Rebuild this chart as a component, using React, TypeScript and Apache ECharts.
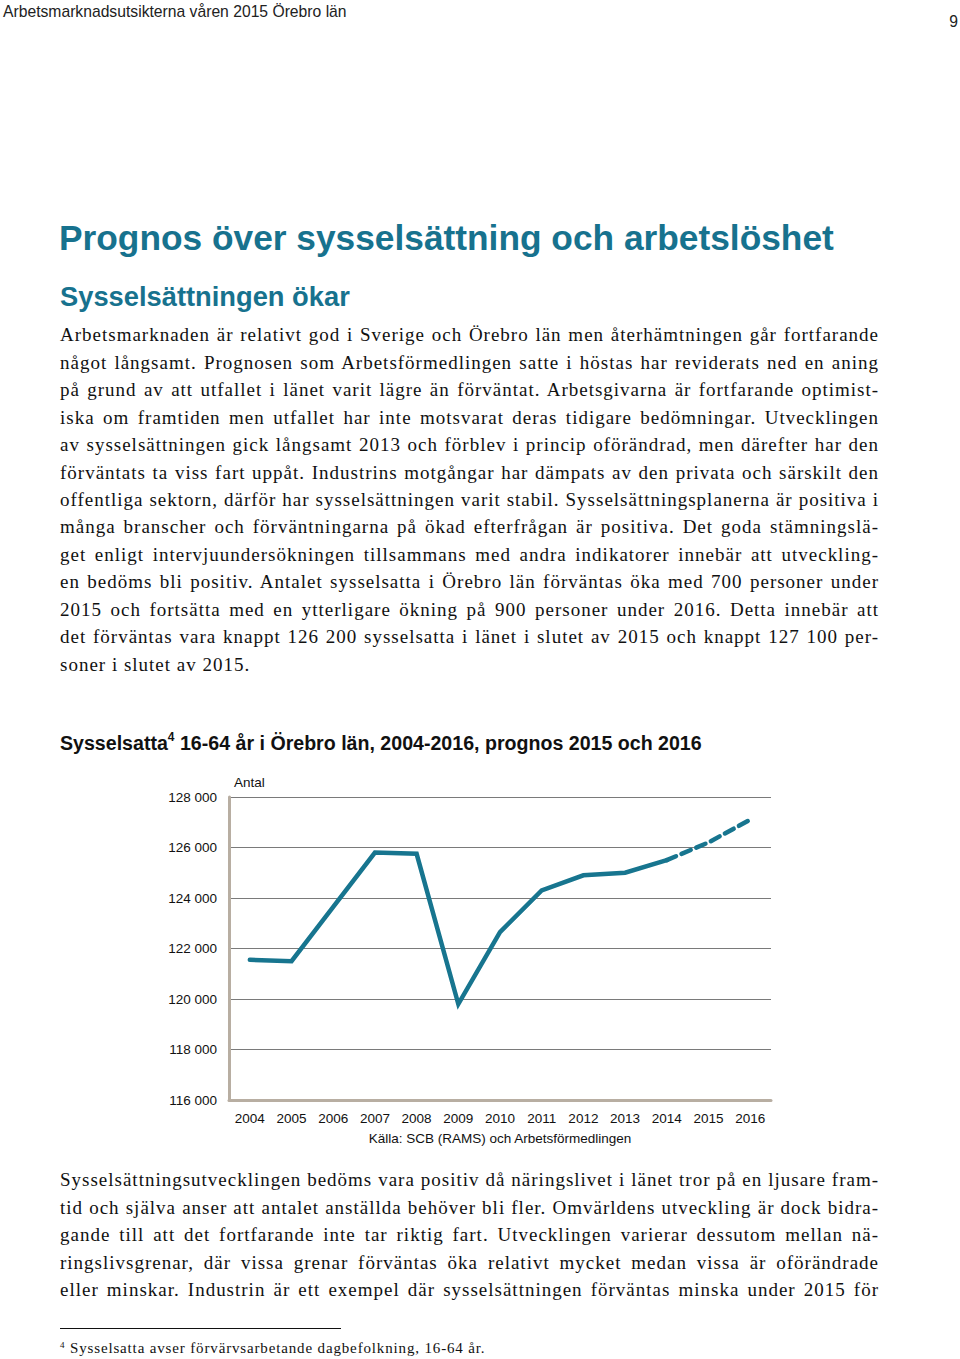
import React, { useEffect, useMemo, useRef } from "react";
import * as echarts from "echarts";

const years = ["2004", "2005", "2006", "2007", "2008", "2009", "2010", "2011", "2012", "2013", "2014", "2015", "2016"];
const actual = [121550, 121500, 123650, 125800, 125750, 119800, 122650, 124300, 124900, 125000, 125500, null, null];
const forecast = [null, null, null, null, null, null, null, null, null, null, 125500, 126200, 127100];
const yMin = 116000;
const yMax = 128000;
const yStep = 2000;

const para1 = [
  "Arbetsmarknaden är relativt god i Sverige och Örebro län men återhämtningen går fortfarande",
  "något långsamt. Prognosen som Arbetsförmedlingen satte i höstas har reviderats ned en aning",
  "på grund av att utfallet i länet varit lägre än förväntat. Arbetsgivarna är fortfarande optimist-",
  "iska om framtiden men utfallet har inte motsvarat deras tidigare bedömningar. Utvecklingen",
  "av sysselsättningen gick långsamt 2013 och förblev i princip oförändrad, men därefter har den",
  "förväntats ta viss fart uppåt. Industrins motgångar har dämpats av den privata och särskilt den",
  "offentliga sektorn, därför har sysselsättningen varit stabil. Sysselsättningsplanerna är positiva i",
  "många branscher och förväntningarna på ökad efterfrågan är positiva. Det goda stämningslä-",
  "get enligt intervjuundersökningen tillsammans med andra indikatorer innebär att utveckling-",
  "en bedöms bli positiv. Antalet sysselsatta i Örebro län förväntas öka med 700 personer under",
  "2015 och fortsätta med en ytterligare ökning på 900 personer under 2016. Detta innebär att",
  "det förväntas vara knappt 126 200 sysselsatta i länet i slutet av 2015 och knappt 127 100 per-",
  "soner i slutet av 2015.",
];

const para2 = [
  "Sysselsättningsutvecklingen bedöms vara positiv då näringslivet i länet tror på en ljusare fram-",
  "tid och själva anser att antalet anställda behöver bli fler. Omvärldens utveckling är dock bidra-",
  "gande till att det fortfarande inte tar riktig fart. Utvecklingen varierar dessutom mellan nä-",
  "ringslivsgrenar, där vissa grenar förväntas öka relativt mycket medan vissa är oförändrade",
  "eller minskar. Industrin är ett exempel där sysselsättningen förväntas minska under 2015 för",
];

const TEAL = "#17728e";
const LINE = "#17758f";
const AXIS = "#b8aea2";
const SANS = "'Liberation Sans', Arial, Helvetica, sans-serif";
const SERIF = "'Liberation Serif', 'Times New Roman', serif";
const BODY_SIZE = 19;
const BODY_W = 819;

function fmt(v: number) {
  const s = String(Math.round(v));
  return s.replace(/\B(?=(\d{3})+(?!\d))/g, " ");
}

function Chart() {
  const ref = useRef<HTMLDivElement>(null);
  useEffect(() => {
    if (!ref.current) return;
    const chart = echarts.init(ref.current, null, { renderer: "svg" });
    chart.setOption({
      animation: false,
      grid: { left: 79, right: 19, top: 32, bottom: 55 },
      xAxis: {
        type: "category",
        data: years,
        boundaryGap: true,
        axisLine: { show: true, lineStyle: { color: AXIS, width: 3 } },
        axisTick: { show: false },
        axisLabel: { color: "#111", fontFamily: SANS, fontSize: 13.5, margin: 11 },
      },
      yAxis: {
        type: "value",
        min: yMin,
        max: yMax,
        interval: yStep,
        axisLine: { show: true, lineStyle: { color: AXIS, width: 3 } },
        axisTick: { show: false },
        axisLabel: {
          color: "#111",
          fontFamily: SANS,
          fontSize: 13.5,
          margin: 12,
          formatter: (v: number) => fmt(v),
        },
        splitLine: { show: true, lineStyle: { color: "#7a7a7a", width: 1 } },
      },
      graphic: [
        {
          type: "text",
          left: 84,
          top: 10,
          style: { text: "Antal", fill: "#111", font: `13.5px ${SANS}` },
        },
        {
          type: "text",
          x: 350,
          y: 373,
          style: {
            text: "Källa: SCB (RAMS) och Arbetsförmedlingen",
            fill: "#111",
            font: `13.5px ${SANS}`,
            align: "center",
            verticalAlign: "middle",
          },
        },
      ],
      series: [
        {
          type: "line",
          data: actual,
          symbol: "none",
          lineStyle: { color: LINE, width: 4.5, cap: "round", join: "miter" },
          connectNulls: false,
        },
        {
          type: "line",
          data: forecast,
          symbol: "none",
          lineStyle: { color: LINE, width: 4.5, type: [10, 6], cap: "round" },
          connectNulls: false,
        },
      ],
    });
    return () => chart.dispose();
  }, []);
  return <div ref={ref} style={{ position: "absolute", left: 150, top: 765, width: 640, height: 390 }} />;
}

function useLetterSpacing(allLines: string[][]) {
  return useMemo(() => {
    try {
      const c = document.createElement("canvas");
      const ctx = c.getContext("2d");
      if (!ctx) return 0.7;
      ctx.font = `${BODY_SIZE}px ${SERIF}`;
      let best = 1.2;
      for (const lines of allLines) {
        lines.forEach((l, i) => {
          if (i === lines.length - 1 && lines === para1) return;
          const w = ctx.measureText(l).width;
          const ls = (BODY_W - 2 - w) / l.length;
          if (ls < best) best = ls;
        });
      }
      return Math.max(0, best);
    } catch (e) {
      return 0.7;
    }
  }, []);
}

function Lines({ lines, top, lastJustify, ls }: { lines: string[]; top: number; lastJustify: boolean; ls: number }) {
  const lh = 27.45;
  return (
    <>
      {lines.map((l, i) => {
        const justify = i < lines.length - 1 || lastJustify;
        return (
          <div
            key={i}
            style={{
              position: "absolute",
              left: 60,
              width: BODY_W,
              top: top + i * lh - lh / 2,
              height: lh,
              lineHeight: `${lh}px`,
              fontFamily: SERIF,
              fontSize: BODY_SIZE,
              color: "#111",
              whiteSpace: "nowrap",
              textAlign: justify ? "justify" : "left",
              textAlignLast: justify ? "justify" : "left",
              letterSpacing: ls,
            }}
          >
            {l}
          </div>
        );
      })}
    </>
  );
}

export default function App() {
  const ls = useLetterSpacing([para1, para2]);
  return (
    <div style={{ position: "relative", width: 960, height: 1359, background: "#fff", overflow: "hidden" }}>
      <style>{`body{margin:0;}`}</style>
      <div style={{ position: "absolute", left: 3, top: 2, fontFamily: SANS, fontSize: 15.7, color: "#222", lineHeight: "20px" }}>
        Arbetsmarknadsutsikterna våren 2015 Örebro län
      </div>
      <div style={{ position: "absolute", right: 2, top: 12, fontFamily: SANS, fontSize: 15.7, color: "#222", lineHeight: "20px" }}>
        9
      </div>
      <div style={{ position: "absolute", left: 59, top: 216, fontFamily: SANS, fontSize: 35.3, fontWeight: "bold", color: TEAL, lineHeight: "44px", whiteSpace: "nowrap" }}>
        Prognos över sysselsättning och arbetslöshet
      </div>
      <div style={{ position: "absolute", left: 60, top: 280, fontFamily: SANS, fontSize: 27.3, fontWeight: "bold", color: TEAL, lineHeight: "34px", whiteSpace: "nowrap" }}>
        Sysselsättningen ökar
      </div>
      <Lines lines={para1} top={335} lastJustify={false} ls={ls} />
      <div style={{ position: "absolute", left: 60, top: 728, fontFamily: SANS, fontSize: 19.6, fontWeight: "bold", color: "#111", lineHeight: "30px", whiteSpace: "nowrap" }}>
        Sysselsatta<sup style={{ fontSize: 12, verticalAlign: "top", lineHeight: "18px" }}>4</sup> 16-64 år i Örebro län, 2004-2016, prognos 2015 och 2016
      </div>
      <Chart />
      <Lines lines={para2} top={1180} lastJustify={true} ls={ls} />
      <div style={{ position: "absolute", left: 60, top: 1328, width: 281, height: 1, background: "#111" }} />
      <div style={{ position: "absolute", left: 60, top: 1338, fontFamily: SERIF, fontSize: 15, color: "#111", lineHeight: "20px", whiteSpace: "nowrap", letterSpacing: 0.85 }}>
        <span style={{ fontSize: 9, verticalAlign: "top", lineHeight: "14px" }}>4</span> Sysselsatta avser förvärvsarbetande dagbefolkning, 16-64 år.
      </div>
    </div>
  );
}
